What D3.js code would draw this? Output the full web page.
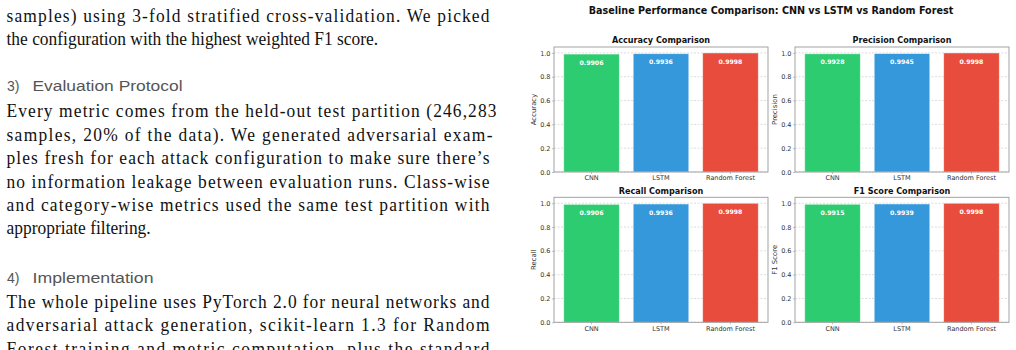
<!DOCTYPE html>
<html>
<head>
<meta charset="utf-8">
<script src="https://cdn.jsdelivr.net/npm/d3@7"></script>
<style>
  html, body { margin: 0; padding: 0; background: #fff; }
  svg { display: block; }
</style>
</head>
<body>
<svg id="page" width="1016" height="350"></svg>
<script>
// ---- data ----
const models = ['CNN', 'LSTM', 'Random Forest'];
const modelColors = ['#2ecc71', '#3498db', '#e74c3c'];
const metricNames = ['Accuracy', 'Precision', 'Recall', 'F1 Score'];
const accuracy = [0.9906, 0.9936, 0.9998];
const precision = [0.9928, 0.9945, 0.9998];
const recall = [0.9906, 0.9936, 0.9998];
const f1Score = [0.9915, 0.9939, 0.9998];
const yTicks = [0.0, 0.2, 0.4, 0.6, 0.8, 1.0];

// text column, line by line (j = justified width)
const bodyLines = [
  { t: 'samples) using 3-fold stratified cross-validation. We picked', y: 21.7, j: 483 },
  { t: 'the configuration with the highest weighted F1 score.', y: 45.2 },
  { t: 'Every metric comes from the held-out test partition (246,283', y: 117.2, j: 490 },
  { t: 'samples, 20% of the data). We generated adversarial exam-', y: 140.7, j: 486 },
  { t: 'ples fresh for each attack configuration to make sure there’s', y: 164.1, j: 483 },
  { t: 'no information leakage between evaluation runs. Class-wise', y: 187.6, j: 483 },
  { t: 'and category-wise metrics used the same test partition with', y: 211.0, j: 483 },
  { t: 'appropriate filtering.', y: 234.4 },
  { t: 'The whole pipeline uses PyTorch 2.0 for neural networks and', y: 307.5, j: 483 },
  { t: 'adversarial attack generation, scikit-learn 1.3 for Random', y: 331.0, j: 483 },
  { t: 'Forest training and metric computation, plus the standard', y: 354.5, j: 483 }
];
const headings = [
  { num: '3)', t: 'Evaluation Protocol', y: 90.6, w: 150 },
  { num: '4)', t: 'Implementation', y: 283.0, w: 121 }
];

const svg = d3.select('#page');

// ---- left text column ----
const squeeze = 0.894;
const col = svg.append('g').attr('class', 'textColumn');
col.selectAll('text.body')
  .data(bodyLines)
  .join('text')
    .attr('class', 'body')
    .attr('transform', d => `translate(6.5, ${d.y}) scale(${squeeze}, 1)`)
    .attr('font-family', 'Liberation Serif, Times New Roman, serif')
    .attr('font-size', 19.5)
    .attr('fill', '#111')
    .each(function (d) {
      if (d.j) {
        d3.select(this).attr('textLength', d.j / squeeze).attr('lengthAdjust', 'spacing');
      }
    })
    .text(d => d.t);

const heads = col.selectAll('g.head')
  .data(headings)
  .join('g')
    .attr('class', 'head')
    .attr('font-family', 'Liberation Sans, Arial, sans-serif')
    .attr('font-size', 15.2)
    .attr('fill', '#555');
heads.append('text')
  .attr('x', 7)
  .attr('y', d => d.y)
  .attr('textLength', 12.5)
  .attr('lengthAdjust', 'spacingAndGlyphs')
  .text(d => d.num);
heads.append('text')
  .attr('x', 32.5)
  .attr('y', d => d.y)
  .attr('textLength', d => d.w)
  .attr('lengthAdjust', 'spacingAndGlyphs')
  .text(d => d.t);

// ---- figure ----
const font = 'DejaVu Sans, Verdana, sans-serif';

svg.append('text')
  .attr('x', 771)
  .attr('y', 13.5)
  .attr('text-anchor', 'middle')
  .attr('font-family', font)
  .attr('font-weight', 'bold')
  .attr('font-size', 9.6)
  .attr('fill', '#111')
  .text('Baseline Performance Comparison: CNN vs LSTM vs Random Forest');

const panels = [
  { name: metricNames[0], values: accuracy, left: 554, top: 47 },
  { name: metricNames[1], values: precision, left: 795, top: 47 },
  { name: metricNames[2], values: recall, left: 554, top: 197.3 },
  { name: metricNames[3], values: f1Score, left: 795, top: 197.3 }
];
const pw = 214;
const ph = 125;

const drawPanel = (p) => {
  const g = svg
    .append('g')
      .attr('class', 'panel')
      .attr('transform', `translate(${p.left}, ${p.top})`);

  const x = d3.scaleBand()
    .domain(models)
    .range([0, pw])
    .paddingInner(0.2)
    .paddingOuter(0.14);

  const y = d3.scaleLinear()
    .domain([0, d3.max(p.values) * 1.05])
    .range([ph, 0]);

  // grid
  g.append('g')
    .selectAll('line')
    .data(yTicks)
    .join('line')
      .attr('x1', 0)
      .attr('x2', pw)
      .attr('y1', d => y(d))
      .attr('y2', d => y(d))
      .attr('stroke', '#c4c4c4')
      .attr('stroke-width', 0.6)
      .attr('stroke-dasharray', '2,1.5');

  // bars
  g.append('g')
    .selectAll('rect')
    .data(p.values)
    .join('rect')
      .attr('x', (d, i) => x(models[i]))
      .attr('y', d => y(d))
      .attr('width', x.bandwidth())
      .attr('height', d => ph - y(d))
      .attr('fill', (d, i) => modelColors[i])
      .attr('stroke', '#ffffff')
      .attr('stroke-opacity', 0.6)
      .attr('stroke-width', 0.8);

  // value labels
  g.append('g')
    .selectAll('text')
    .data(p.values)
    .join('text')
      .attr('x', (d, i) => x(models[i]) + x.bandwidth() / 2)
      .attr('y', d => y(d - 0.05) + 4.6)
      .attr('text-anchor', 'middle')
      .attr('font-family', font)
      .attr('font-weight', 'bold')
      .attr('font-size', 6.2)
      .attr('fill', '#fff')
      .text(d => d.toFixed(4));

  // axes
  const yAxis = g.append('g')
    .call(d3.axisLeft(y).tickValues(yTicks).tickFormat(d3.format('.1f')).tickSize(2).tickPadding(1.5));
  const xAxis = g.append('g')
    .attr('transform', `translate(0, ${ph})`)
    .call(d3.axisBottom(x).tickSize(2).tickPadding(1.8));
  [yAxis, xAxis].forEach(a => {
    a.select('.domain').remove();
    a.selectAll('line').attr('stroke', '#999').attr('stroke-width', 0.6);
    a.selectAll('text')
      .attr('font-family', font)
      .attr('font-size', 6.5)
      .attr('fill', '#333');
  });

  // frame
  g.append('rect')
    .attr('width', pw)
    .attr('height', ph)
    .attr('fill', 'none')
    .attr('stroke', '#999')
    .attr('stroke-width', 0.9);

  // titles
  g.append('text')
    .attr('x', pw / 2)
    .attr('y', -3.8)
    .attr('text-anchor', 'middle')
    .attr('font-family', font)
    .attr('font-weight', 'bold')
    .attr('font-size', 8.1)
    .attr('fill', '#111')
    .text(`${p.name} Comparison`);

  g.append('text')
    .attr('transform', `translate(-18, ${ph / 2}) rotate(-90)`)
    .attr('text-anchor', 'middle')
    .attr('font-family', font)
    .attr('font-size', 6.9)
    .attr('fill', '#333')
    .text(p.name);
};

panels.forEach(drawPanel);
</script>
</body>
</html>
